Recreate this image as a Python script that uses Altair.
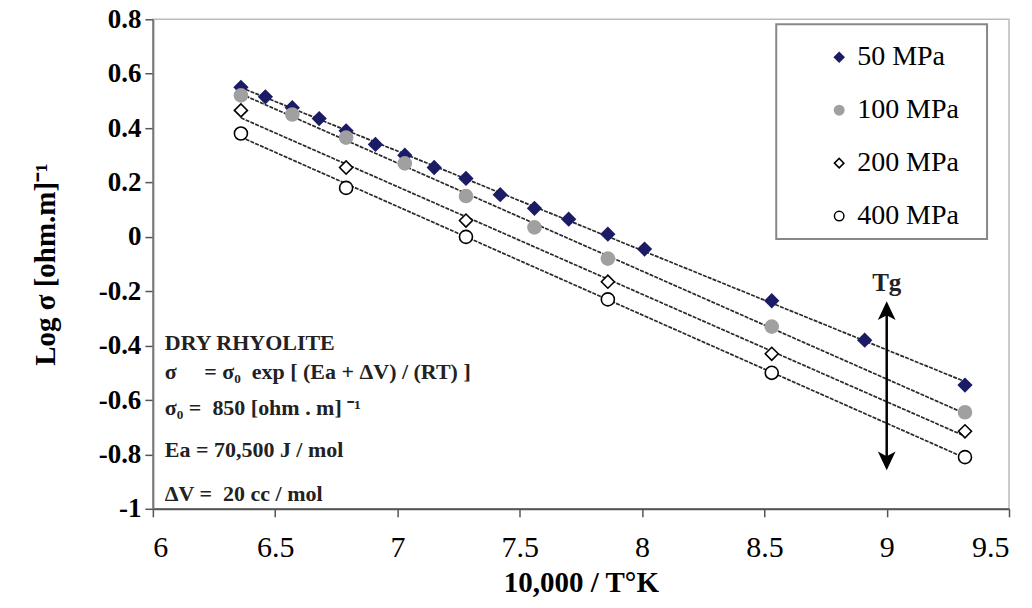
import altair as alt
import pandas as pd

series_names = ["50 MPa", "100 MPa", "200 MPa", "400 MPa"]

x_50 = [6.36, 6.46, 6.57, 6.68, 6.79, 6.91, 7.03, 7.15, 7.28, 7.42, 7.56, 7.70, 7.86, 8.01, 8.53, 8.91, 9.32]
y_50 = [0.55, 0.515, 0.475, 0.435, 0.39, 0.34, 0.30, 0.255, 0.215, 0.155, 0.105, 0.065, 0.01, -0.045, -0.235, -0.38, -0.545]

x_100 = [6.36, 6.57, 6.79, 7.03, 7.28, 7.56, 7.86, 8.53, 9.32]
y_100 = [0.52, 0.45, 0.365, 0.27, 0.15, 0.035, -0.08, -0.33, -0.645]

x_200 = [6.36, 6.79, 7.28, 7.86, 8.53, 9.32]
y_200 = [0.465, 0.255, 0.06, -0.165, -0.43, -0.715]

x_400 = [6.36, 6.79, 7.28, 7.86, 8.53, 9.32]
y_400 = [0.38, 0.18, 0.0, -0.23, -0.50, -0.81]

x_ticks = [6, 6.5, 7, 7.5, 8, 8.5, 9, 9.5]
y_ticks = [-1, -0.8, -0.6, -0.4, -0.2, 0, 0.2, 0.4, 0.6, 0.8]

tg_x = 9.0
tg_top = -0.28
tg_bottom = -0.815
tg_label_y = -0.17

NB = "\u00a0"
note_lines = [
    "DRY RHYOLITE",
    "σ" + NB * 5 + "= σ₀" + NB * 2 + "exp [ (Ea + ΔV) / (RT) ]",
    "σ₀ =" + NB * 2 + "850 [ohm . m] ⁻¹",
    "Ea = 70,500 J / mol",
    "ΔV =" + NB * 2 + "20 cc / mol",
]

shapes = ["diamond", "circle", "diamond", "circle"]
fills = ["#1c1c66", "#a0a0a0", "white", "white"]
strokes = ["#1c1c66", "#a0a0a0", "black", "black"]

rows = []
for name, xs, ys in [("50 MPa", x_50, y_50), ("100 MPa", x_100, y_100),
                     ("200 MPa", x_200, y_200), ("400 MPa", x_400, y_400)]:
    for a, b in zip(xs, ys):
        rows.append({"series": name, "x": a, "y": b})
df = pd.DataFrame(rows)

FONT = "Liberation Serif"

xscale = alt.Scale(domain=[6, 9.5], nice=False, zero=False)
yscale = alt.Scale(domain=[-1, 0.8], nice=False, zero=False)

xenc = alt.X("x:Q", scale=xscale, title="10,000 / T°K",
             axis=alt.Axis(values=x_ticks, labelExpr="'' + datum.value", tickSize=8,
                           labelPadding=16, titlePadding=6, domainWidth=2, tickWidth=1.5,
                           labelFontSize=30))
yenc = alt.Y("y:Q", scale=yscale, title="Log σ [ohm.m]⁻¹",
             axis=alt.Axis(values=y_ticks, labelExpr="'' + datum.value", tickSize=8,
                           labelPadding=4, titlePadding=38, domainWidth=2, tickWidth=1.5,
                           labelFontSize=27, labelFontWeight="bold", domainColor="#777777"))

lines = alt.Chart(df).transform_regression(
    "x", "y", groupby=["series"]
).mark_line(color="#2a2a2a", strokeWidth=1.7, strokeDash=[4, 1.2]).encode(
    x=alt.X("x:Q", scale=xscale), y=alt.Y("y:Q", scale=yscale), detail="series:N"
)

leg = alt.Legend(title=None, orient="none", legendX=673, legendY=24,
                 labelFont=FONT, labelFontSize=28, labelColor="black",
                 symbolSize=90, symbolStrokeWidth=1.5, rowPadding=25,
                 labelOffset=4, padding=0)

points = alt.Chart(df).mark_point(filled=True, size=170, strokeWidth=1.6, opacity=1).encode(
    x=xenc, y=yenc,
    shape=alt.Shape("series:N", scale=alt.Scale(domain=series_names, range=shapes), legend=leg),
    fill=alt.Fill("series:N", scale=alt.Scale(domain=series_names, range=fills), legend=leg),
    stroke=alt.Stroke("series:N", scale=alt.Scale(domain=series_names, range=strokes), legend=leg),
)

arrow_df = pd.DataFrame({"x": [tg_x], "y": [tg_top], "y2": [tg_bottom]})
arrow_shaft = alt.Chart(arrow_df).mark_rule(color="black", strokeWidth=2.5).encode(
    x=alt.X("x:Q", scale=xscale), y=alt.Y("y:Q", scale=yscale), y2="y2:Q"
)
head_up = alt.Chart(pd.DataFrame({"x": [tg_x], "y": [tg_top]})).mark_point(
    shape="M0,-1L0.75,0.6L0,0.2L-0.75,0.6Z", size=560, filled=True, color="black", opacity=1
).encode(x=alt.X("x:Q", scale=xscale), y=alt.Y("y:Q", scale=yscale))
head_down = alt.Chart(pd.DataFrame({"x": [tg_x], "y": [tg_bottom]})).mark_point(
    shape="M0,1L0.75,-0.6L0,-0.2L-0.75,-0.6Z", size=560, filled=True, color="black", opacity=1
).encode(x=alt.X("x:Q", scale=xscale), y=alt.Y("y:Q", scale=yscale))
tg_text = alt.Chart(pd.DataFrame({"x": [tg_x], "y": [tg_label_y], "t": ["Tg"]})).mark_text(
    font=FONT, fontSize=25, fontWeight="bold", color="#222", align="center", baseline="middle"
).encode(x=alt.X("x:Q", scale=xscale), y=alt.Y("y:Q", scale=yscale), text="t:N")

note_y = [324, 353, 389, 431, 475]
note_layers = []
for t, py in zip(note_lines, note_y):
    note_layers.append(
        alt.Chart(pd.DataFrame({"t": [t]})).mark_text(
            font=FONT, fontSize=22, fontWeight="bold", color="#222",
            align="left", baseline="middle"
        ).encode(x=alt.value(12), y=alt.value(py), text="t:N")
    )

legend_box = alt.Chart(pd.DataFrame({"a": [0]})).mark_rect(
    fillOpacity=0, stroke="#888888", strokeWidth=2
).encode(x=alt.value(624), x2=alt.value(835), y=alt.value(5), y2=alt.value(220))

chart = alt.layer(
    legend_box, lines, arrow_shaft, head_up, head_down, tg_text, points, *note_layers
).properties(
    width=857, height=490,
    padding={"left": 145, "top": 11, "right": 15, "bottom": 96},
    autosize=alt.AutoSizeParams(type="none"),
).configure_view(
    stroke="#bbbbbb", strokeWidth=1.5
).configure_axis(
    labelFont=FONT, labelFontSize=28, labelColor="black",
    titleFont=FONT, titleFontSize=29, titleFontWeight="bold", titleColor="black",
    domainColor="#555555", tickColor="#555555", grid=False
)

chart.save("out.html", embed_options={"renderer": "svg", "actions": False})
